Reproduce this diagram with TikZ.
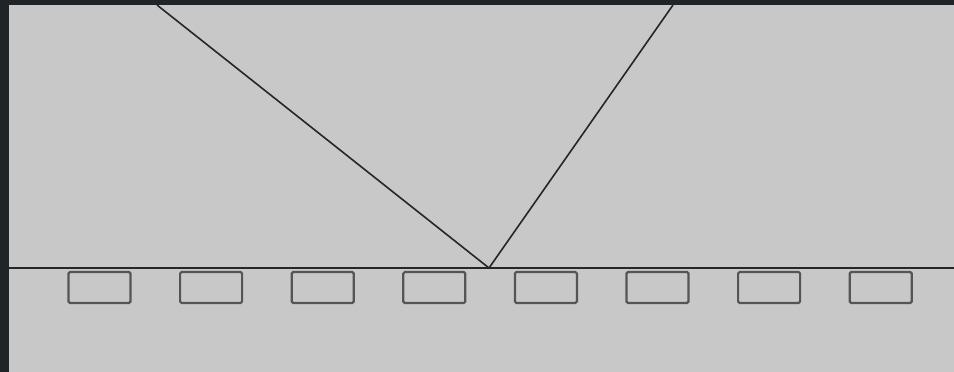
\documentclass[tikz,border=0pt]{standalone}
\usepackage{tikz}
\definecolor{frame}{HTML}{1E2428}
\definecolor{panel}{HTML}{C8C8C8}
\definecolor{slotline}{HTML}{555555}
\begin{document}
\begin{tikzpicture}[x=1pt, y=-1pt, node distance=111.6pt, auto]
	% Define styles
	\tikzstyle{slot} = [rectangle, draw=slotline, line width=2.2pt, fill=panel, rounded corners=1.5pt, minimum width=62pt, minimum height=31pt, inner sep=0pt]
	\tikzstyle{ray} = [draw=black!85, line width=1.6pt]
	
	% Background
	\fill[frame] (0,0) rectangle (954,372);
	\fill[panel] (9,5) rectangle (954,372);
	\useasboundingbox (0,0) rectangle (954,372);
	
	% Points
	\coordinate (left) at (9,268);
	\coordinate (right) at (954,268);
	\coordinate (hit) at (489,268);
	\coordinate (srcA) at (157,5);
	\coordinate (srcB) at (673,5);
	
	% Nodes
	\node[slot] (s1) at (99.5,287.5) {};
	\node[slot, right of=s1] (s2) {};
	\node[slot, right of=s2] (s3) {};
	\node[slot, right of=s3] (s4) {};
	\node[slot, right of=s4] (s5) {};
	\node[slot, right of=s5] (s6) {};
	\node[slot, right of=s6] (s7) {};
	\node[slot, right of=s7] (s8) {};
	
	% Lines
	\draw[ray] (left) -- (right);
	\draw[ray] (srcA) -- (hit);
	\draw[ray] (hit) -- (srcB);
\end{tikzpicture}
\end{document}
